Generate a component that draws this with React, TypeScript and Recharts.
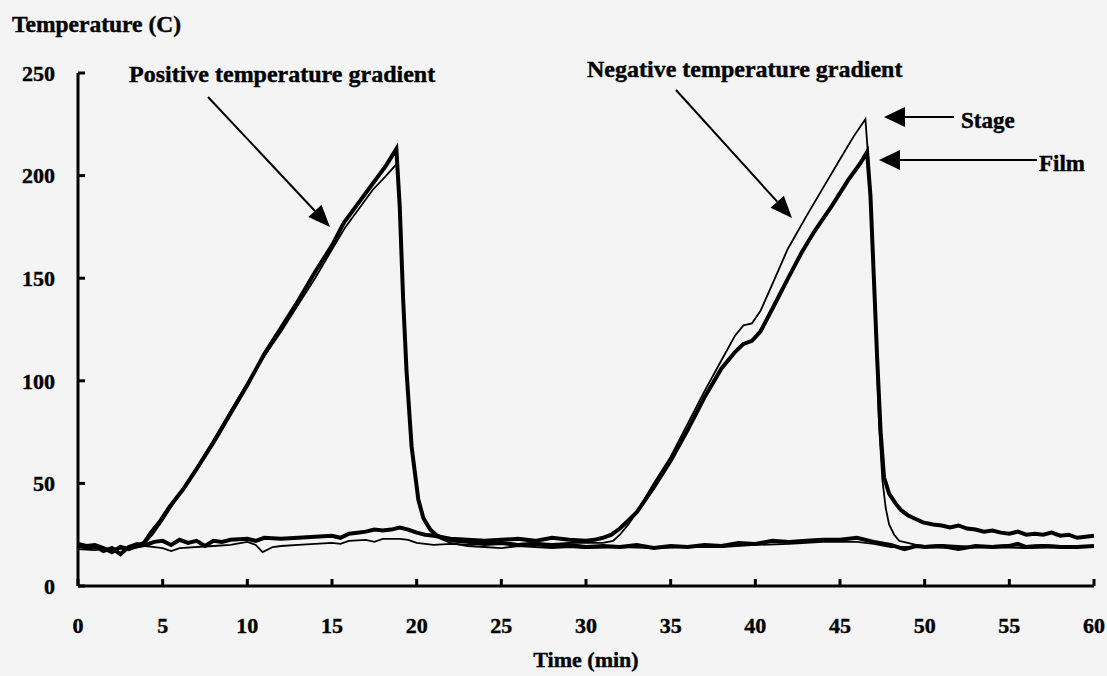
import React from "react";
import { LineChart, Line, XAxis, YAxis } from "recharts";

// time (min), temperature (C)
const posFilm: [number, number][] = [
  [0, 20.5], [0.5, 19.5], [1, 20], [1.5, 18.5], [2, 16.5], [2.5, 19], [3, 18], [3.5, 19.5], [3.9, 21],
  [4.3, 26], [4.8, 31], [5.4, 38.5], [6.2, 47], [7, 57], [8, 70], [9, 84], [10, 98], [11, 113], [12, 126],
  [13, 139], [14, 153], [15, 166], [15.7, 177], [16.5, 186], [17.4, 196], [18.2, 205], [18.8, 213],
  [19, 185], [19.2, 140], [19.4, 105], [19.7, 68], [20.1, 42], [20.4, 33], [20.8, 27.5], [21.2, 24.5],
  [21.7, 23], [22.3, 22], [23, 21.5], [24, 20.5], [25, 21], [26, 20], [27, 20.5], [28, 19.5], [29, 20],
  [30, 19], [31, 19.5], [32, 19], [33, 20], [34, 18.5], [35, 19.5], [36, 19], [37, 20], [38, 19.5],
  [39, 21], [40, 20.5], [41, 22], [42, 21.5], [43, 22], [44, 22.5], [45, 22.5], [46, 23.5], [47, 21.5],
  [48, 20], [48.8, 18], [49.5, 19.5], [50, 19], [51, 19.5], [52, 18], [53, 19.5], [54, 19], [55, 19.5],
  [55.5, 20.5], [56, 19], [57, 19.5], [58, 19], [59, 19], [60, 19.5],
];

const posStage: [number, number][] = [
  [0, 19], [1, 18.5], [2, 18], [3, 18.5], [3.8, 19.5], [4.4, 25], [5, 32], [6, 45], [7, 57.5], [8, 71],
  [9, 85], [10, 99], [11, 112], [12, 124], [13, 137], [14, 150], [15, 164], [15.8, 175], [16.6, 184],
  [17.4, 193], [18.2, 200], [18.85, 206], [19.05, 180], [19.25, 135], [19.45, 100], [19.75, 65],
  [20.15, 40], [20.5, 31], [20.9, 26], [21.4, 23], [22, 21], [23, 19.5], [24, 19], [25, 18.5], [26, 19.5],
  [27, 19], [28, 18.5], [29, 19], [30, 18.5], [32, 19], [34, 18.5], [36, 19], [38, 19], [40, 20],
  [42, 20.5], [44, 21.5], [46, 21.5], [47, 20.5], [48, 19], [50, 19], [52, 18.5], [54, 19], [56, 18.5],
  [58, 19], [60, 19],
];

const negFilm: [number, number][] = [
  [0, 20], [0.5, 18.5], [1, 19.5], [1.5, 17], [2, 18.5], [2.5, 15.5], [3, 19], [3.5, 20.5], [4, 20],
  [4.5, 21.5], [5, 22], [5.5, 20], [6, 22.5], [6.5, 21], [7, 22], [7.5, 19.5], [8, 22], [8.5, 21.5],
  [9, 22.5], [10, 23], [10.5, 22], [11, 23.5], [12, 23], [13, 23.5], [14, 24], [15, 24.5], [15.5, 23.5],
  [16, 25.5], [16.5, 26], [17, 26.5], [17.5, 27.5], [18, 27], [18.5, 27.5], [19, 28.5], [19.5, 27.5],
  [20, 26], [20.5, 25], [21, 24.5], [22, 23], [23, 22.5], [24, 22], [25, 22.5], [26, 23], [27, 22],
  [28, 23.5], [29, 22.5], [30, 22], [30.5, 22.5], [31, 23.5], [31.5, 25], [32, 28], [32.5, 32], [33, 36],
  [33.5, 42], [34, 48], [35, 61], [36, 76], [37, 92], [38, 106], [38.8, 114], [39.3, 118], [39.8, 119.5],
  [40.3, 124], [41, 135], [42, 151], [42.7, 162], [43.5, 173], [44.5, 185], [45.5, 198], [46.2, 206],
  [46.6, 211.5], [46.8, 190], [47, 150], [47.2, 110], [47.4, 75], [47.6, 53], [47.9, 45], [48.3, 40],
  [48.6, 37], [49, 34.5], [49.5, 32.5], [49.9, 31], [50.5, 30], [51, 29.5], [51.5, 28.5], [52, 29.5],
  [52.5, 28], [53, 27.5], [53.5, 26.5], [54, 27], [54.5, 26], [55, 25.5], [55.5, 26.5], [56, 25],
  [56.5, 25.5], [57, 25], [57.5, 26], [58, 24.5], [58.5, 25], [59, 23.5], [59.5, 24], [60, 24.5],
];

const negStage: [number, number][] = [
  [0, 18], [1, 17.5], [2, 18.5], [3, 18], [4, 19.5], [5, 18.5], [5.5, 17], [6, 18.5], [7, 19], [8, 19.5],
  [9, 20], [10, 21.5], [10.5, 20], [10.9, 16.5], [11.5, 19], [12, 19.5], [13, 20], [14, 20.5], [15, 21],
  [15.5, 20.5], [16, 22], [17, 22.5], [17.5, 21.5], [18, 23], [19, 23], [19.5, 22.5], [20, 21], [21, 20],
  [22, 20.5], [23, 20], [24, 20.5], [25, 21], [26, 20.5], [27, 21], [28, 20.5], [29, 21], [30, 21],
  [31, 21], [31.6, 22], [32, 25], [32.5, 30], [33, 36], [33.5, 43], [34, 50], [35, 63], [36, 79], [37, 95],
  [38, 110], [38.8, 122], [39.3, 127], [39.8, 128], [40.3, 134], [41, 147], [41.9, 164], [43, 180],
  [44, 194], [45, 208], [45.8, 219], [46.5, 227.5], [46.7, 205], [46.9, 170], [47.1, 125], [47.3, 80],
  [47.5, 52], [47.7, 38], [47.9, 30], [48.2, 25], [48.5, 22], [49, 21], [49.5, 20], [50, 19.5], [51, 20],
  [52, 19.5], [53, 19], [54, 19.5], [55, 20], [56, 19.5], [57, 20], [58, 19.5], [59, 19.5], [60, 19.5],
];

const timeTicks = [0, 5, 10, 15, 20, 25, 30, 35, 40, 45, 50, 55, 60];
const tempTicks = [0, 50, 100, 150, 200, 250];

const toRows = (pts: [number, number][]) => pts.map(([t, v]) => ({ t, v }));

const FONT = "'Liberation Serif', 'Times New Roman', serif";
const tickStyle = { fill: "#000", stroke: "#000", strokeWidth: 0.4, fontSize: 22, fontWeight: "bold", fontFamily: FONT };

const Arrow = ({ x1, y1, x2, y2, len = 22, half = 9 }: { x1: number; y1: number; x2: number; y2: number; len?: number; half?: number }) => {
  const dx = x2 - x1;
  const dy = y2 - y1;
  const d = Math.hypot(dx, dy);
  const ux = dx / d;
  const uy = dy / d;
  const bx = x2 - ux * len;
  const by = y2 - uy * len;
  return (
    <g>
      <line x1={x1} y1={y1} x2={bx} y2={by} stroke="#000" strokeWidth={2} />
      <polygon points={`${x2},${y2} ${bx - uy * half},${by + ux * half} ${bx + uy * half},${by - ux * half}`} fill="#000" />
    </g>
  );
};

const App: React.FC = () => {
  const textProps = { fontFamily: FONT, fontWeight: "bold", fill: "#000", stroke: "#000", strokeWidth: 0.4 } as const;
  return (
    <div style={{ position: "absolute", left: 0, top: 0, width: 1107, height: 676, background: "#f4f4f4" }}>
      <LineChart width={1107} height={676} margin={{ top: 73, right: 13, bottom: 50, left: 18 }}>
        <XAxis
          type="number"
          dataKey="t"
          domain={[0, 60]}
          ticks={timeTicks}
          height={40}
          tickSize={-7}
          tickMargin={38}
          axisLine={{ stroke: "#000", strokeWidth: 3 }}
          tickLine={{ stroke: "#000", strokeWidth: 3 }}
          tick={tickStyle}
          interval={0}
        />
        <YAxis
          type="number"
          dataKey="v"
          domain={[0, 250]}
          ticks={tempTicks}
          width={60}
          tickSize={-7}
          tickMargin={30}
          axisLine={{ stroke: "#000", strokeWidth: 3 }}
          tickLine={{ stroke: "#000", strokeWidth: 3 }}
          tick={tickStyle}
          interval={0}
        />
        <Line data={toRows(posStage)} dataKey="v" type="linear" stroke="#000" strokeWidth={1.8} dot={false} isAnimationActive={false} />
        <Line data={toRows(negStage)} dataKey="v" type="linear" stroke="#000" strokeWidth={1.8} dot={false} isAnimationActive={false} />
        <Line data={toRows(posFilm)} dataKey="v" type="linear" stroke="#000" strokeWidth={4} dot={false} isAnimationActive={false} />
        <Line data={toRows(negFilm)} dataKey="v" type="linear" stroke="#000" strokeWidth={4} dot={false} isAnimationActive={false} />
      </LineChart>

      <svg width={1107} height={676} style={{ position: "absolute", left: 0, top: 0, pointerEvents: "none" }}>
        <text x={12} y={32} fontSize={23.5} {...textProps}>Temperature (C)</text>
        <text x={586} y={667} fontSize={22} textAnchor="middle" {...textProps}>Time (min)</text>

        <text x={129} y={82} fontSize={24} {...textProps}>Positive temperature gradient</text>
        <Arrow x1={208} y1={97} x2={330} y2={227} />

        <text x={587} y={77} fontSize={24} {...textProps}>Negative temperature gradient</text>
        <Arrow x1={676} y1={90} x2={792} y2={218} />

        <text x={961} y={128} fontSize={23} {...textProps}>Stage</text>
        <Arrow x1={954} y1={117} x2={884} y2={117} len={21} half={10} />

        <text x={1039} y={171} fontSize={23} {...textProps}>Film</text>
        <Arrow x1={1037} y1={160} x2={879} y2={160} len={21} half={10} />
      </svg>
    </div>
  );
};

export default App;
